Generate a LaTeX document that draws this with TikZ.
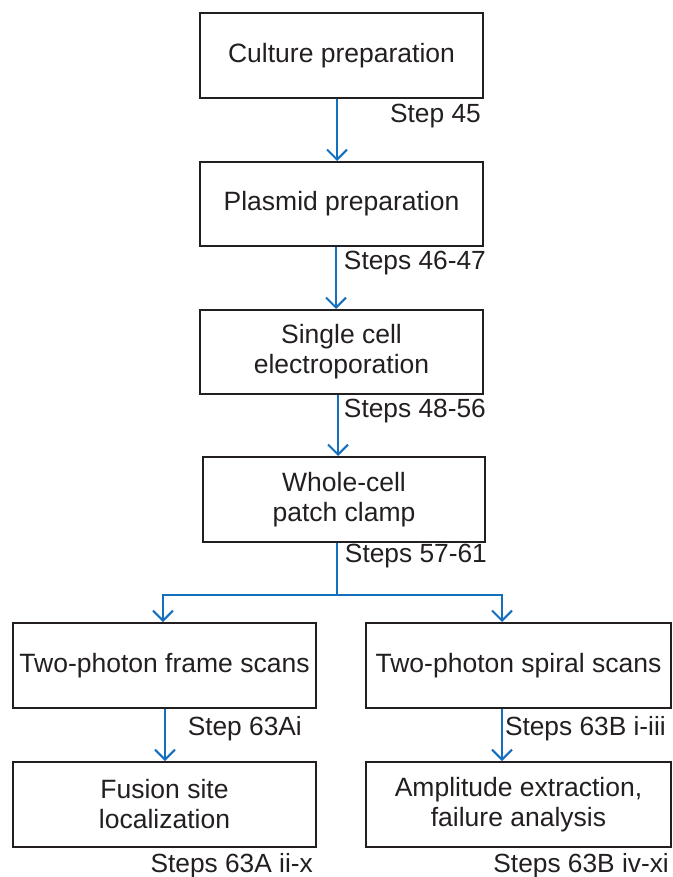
\documentclass[tikz,border=0pt]{standalone}
\usepackage{fontspec}
\setmainfont{Liberation Sans}
\usetikzlibrary{arrows.meta,positioning}

\definecolor{flowblue}{RGB}{20,112,190}
\definecolor{inkgray}{RGB}{35,31,32}

\tikzset{
    stagebox/.style={draw=inkgray, line width=2pt, text=inkgray, align=center,
        inner sep=0pt, font=\fontsize{26.5}{30}\selectfont},
    steplabel/.style={anchor=east, inner sep=0pt, text=inkgray,
        font=\fontsize{26.3}{30}\selectfont},
    flow/.style={-{Straight Barb[length=10pt,width=20pt]}, flowblue, line width=2pt},
    trunk/.style={flowblue, line width=2pt}
}

\begin{document}
\begin{tikzpicture}[x=1pt, y=-1pt]
    \useasboundingbox (0,0) rectangle (672,877);

    % Main column of stages
    \node[stagebox, minimum width=283pt, minimum height=85pt] (culture) at (341.5,55.5) {Culture preparation};
    \node[stagebox, minimum width=283pt, minimum height=84pt] (plasmid) at (341.5,204) {Plasmid preparation};
    \node[stagebox, minimum width=283pt, minimum height=84pt] (electro) at (341.5,352) {Single cell\\electroporation};
    \node[stagebox, minimum width=282pt, minimum height=85pt] (patch) at (344,499.5) {Whole-cell\\patch clamp};

    % Two branches
    \node[stagebox, minimum width=303pt, minimum height=85pt] (frame) at (164.5,665.5) {Two-photon frame scans};
    \node[stagebox, minimum width=305pt, minimum height=85pt] (spiral) at (518.5,665.5) {Two-photon spiral scans};
    \node[stagebox, minimum width=303pt, minimum height=85pt] (fusion) at (164.5,804.5) {Fusion site\\localization};
    \node[stagebox, minimum width=305pt, minimum height=85pt] (amplitude) at (518.5,804.5) {Amplitude extraction,\\failure analysis};

    % Step labels
    \node[steplabel] (s45) at (481,116) {Step 45};
    \node[steplabel] (s4647) at (486,263) {Steps 46-47};
    \node[steplabel] (s4856) at (486,411) {Steps 48-56};
    \node[steplabel] (s5761) at (487,556) {Steps 57-61};
    \node[steplabel] (s63ai) at (302,729) {Step 63Ai};
    \node[steplabel] (s63bi) at (666,729) {Steps 63B i-iii};
    \node[steplabel] (s63aii) at (313,866) {Steps 63A ii-x};
    \node[steplabel] (s63biv) at (669,866) {Steps 63B iv-xi};

    % Arrows
    \draw[flow] ([xshift=-4.5pt]culture.south) -- ([xshift=-4.5pt]plasmid.north);
    \draw[flow] ([xshift=-5.5pt]plasmid.south) -- ([xshift=-5.5pt]electro.north);
    \draw[flow] ([xshift=-3.5pt]electro.south) -- ([xshift=-6pt]patch.north);

    \coordinate (split) at (337,595);
    \draw[trunk] ([xshift=-7pt]patch.south) -- (split);
    \draw[flow] (split) -| ([xshift=-1.5pt]frame.north);
    \draw[flow] (split) -| ([xshift=-16.5pt]spiral.north);

    \draw[flow] ([xshift=0.5pt]frame.south) -- ([xshift=0.5pt]fusion.north);
    \draw[flow] ([xshift=-16.5pt]spiral.south) -- ([xshift=-16.5pt]amplitude.north);
\end{tikzpicture}
\end{document}
